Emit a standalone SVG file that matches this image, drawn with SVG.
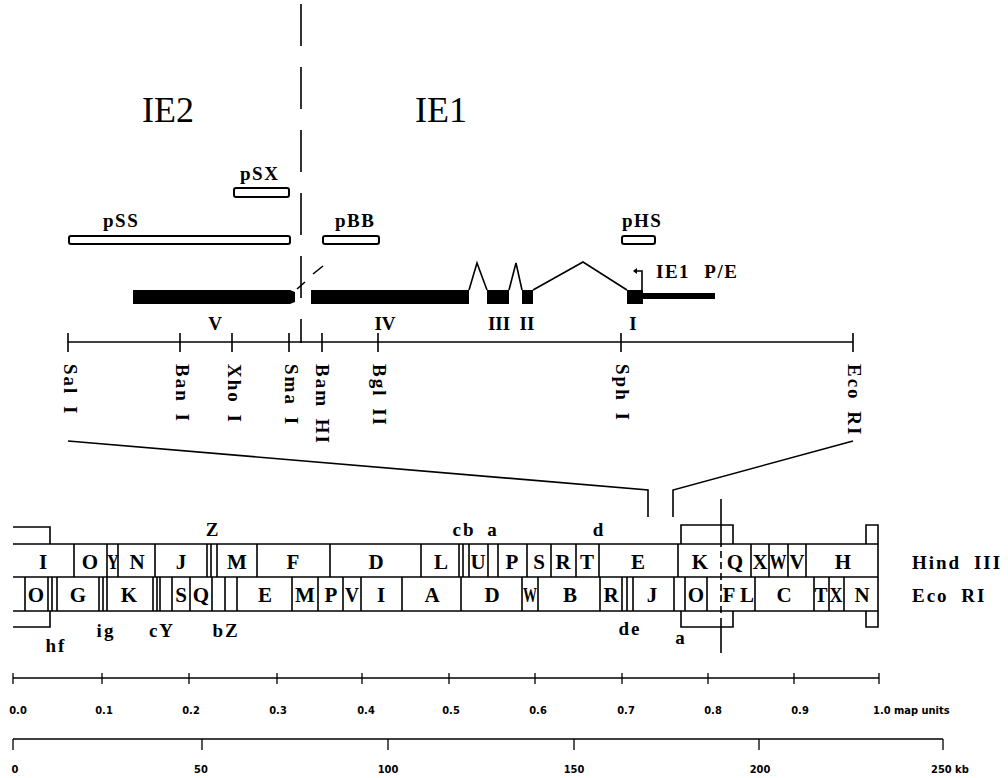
<svg xmlns="http://www.w3.org/2000/svg" width="1008" height="778" viewBox="0 0 1008 778">
<style>
.ln{stroke:#000;stroke-width:1.6;fill:none}
.thin{stroke:#000;stroke-width:1.3;fill:none}
.probe{fill:#fff;stroke:#000;stroke-width:2}
.exon{fill:#000}
.big{font-family:"Liberation Serif",serif;font-size:36px;text-anchor:middle}
.lbl{font-family:"Liberation Serif",serif;font-weight:bold;font-size:19px;letter-spacing:1.5px;word-spacing:8px}
.ex{font-family:"Liberation Serif",serif;font-weight:bold;font-size:19px;text-anchor:middle}
.site{font-family:"Liberation Serif",serif;font-weight:bold;font-size:19px;letter-spacing:2px;word-spacing:4px}
.band{font-family:"Liberation Serif",serif;font-weight:bold;font-size:21px;text-anchor:middle}
.sm{font-family:"Liberation Serif",serif;font-weight:bold;font-size:19px;letter-spacing:2px;text-anchor:middle}
.enz{font-family:"Liberation Serif",serif;font-weight:bold;font-size:19px;letter-spacing:2px;word-spacing:6px}
.ax{font-family:"DejaVu Sans Condensed","Liberation Sans",sans-serif;font-weight:bold;font-size:11px;text-anchor:middle}
.axl{font-family:"DejaVu Sans Condensed","Liberation Sans",sans-serif;font-weight:bold;font-size:11px}
</style>

<g id="connectors">
  <path class="ln" d="M301 4 V343" stroke-dasharray="42 21"/>
  <path class="ln" d="M68 441 L648 490 V517"/>
  <path class="ln" d="M853 441 L673 490 V517"/>
</g>

<g id="titles">
  <text class="big" x="168" y="122">IE2</text>
  <text class="big" x="441" y="122">IE1</text>
</g>

<g id="probes">
  <rect class="probe" x="234" y="188" width="55" height="9" rx="2"/>
  <text class="lbl" x="240" y="180">pSX</text>
  <rect class="probe" x="69" y="236" width="221" height="8" rx="2"/>
  <text class="lbl" x="103" y="227">pSS</text>
  <rect class="probe" x="323" y="236" width="56" height="8" rx="2"/>
  <text class="lbl" x="335" y="227">pBB</text>
  <rect class="probe" x="622" y="236" width="33" height="8" rx="2"/>
  <text class="lbl" x="622" y="227">pHS</text>
</g>

<g id="gene">
  <path class="exon" d="M133 290 H290 L295 292 V302 L290 304 H133 Z"/>
  <rect class="exon" x="311" y="290" width="158" height="14"/>
  <rect class="exon" x="487" y="290" width="22" height="14"/>
  <rect class="exon" x="522" y="290" width="11" height="14"/>
  <rect class="exon" x="627" y="290" width="16" height="14"/>
  <rect class="exon" x="643" y="293" width="72" height="6"/>
  <path class="ln" d="M469 290 L477 263 L487 290"/>
  <path class="ln" d="M509 290 L516 263 L522 290"/>
  <path class="ln" d="M533 290 L583 262 L627 290"/>
  <path class="ln" d="M313 274 L323 266"/>
  <path class="ln" d="M297 289 L305 282"/>
  <path class="ln" d="M642 290 V271 H636"/>
  <path d="M637 268 L633 271 L637 274 Z" fill="#000"/>
  <text class="lbl" x="656" y="278">IE1 P/E</text>
  <text class="ex" x="215" y="330">V</text>
  <text class="ex" x="385" y="330">IV</text>
  <text class="ex" x="499" y="330">III</text>
  <text class="ex" x="527" y="330">II</text>
  <text class="ex" x="633" y="330">I</text>
</g>

<g id="restriction-map">
  <path class="ln" d="M68 342 H853"/>
  <path class="ln" d="M68 333 V352 M180 333 V352 M232 333 V352 M289 333 V352 M322 333 V352 M378 333 V352 M621 333 V352 M853 333 V352"/>
  <text class="site" transform="translate(64,364) rotate(90)">Sal I</text>
  <text class="site" transform="translate(176,364) rotate(90)">Ban I</text>
  <text class="site" transform="translate(228,364) rotate(90)">Xho I</text>
  <text class="site" transform="translate(285,364) rotate(90)">Sma I</text>
  <text class="site" transform="translate(316,364) rotate(90)">Bam HI</text>
  <text class="site" transform="translate(373,364) rotate(90)">Bgl II</text>
  <text class="site" transform="translate(616,364) rotate(90)">Sph I</text>
  <text class="site" transform="translate(848,364) rotate(90)">Eco RI</text>
</g>

<g id="fragment-map">
  <path class="ln" d="M13 544 H878 M13 577 H878 M13 611 H878"/>
  <path class="ln" d="M74 544V577M107 544V577M118 544V577M155 544V577M207 544V577M211 544V577M217 544V577M257 544V577M330 544V577M421 544V577M459 544V577M463 544V577M469 544V577M488 544V577M498 544V577M527 544V577M551 544V577M576 544V577M599 544V577M678 544V577M751 544V577M769 544V577M788 544V577M806 544V577M878 544V577"/>
  <path class="ln" d="M25 577V611M48 577V611M52 577V611M57 577V611M99 577V611M103 577V611M107 577V611M153 577V611M157 577V611M160 577V611M172 577V611M190 577V611M212 577V611M225 577V611M237 577V611M292 577V611M318 577V611M343 577V611M361 577V611M402 577V611M461 577V611M522 577V611M538 577V611M600 577V611M622 577V611M627 577V611M633 577V611M674 577V611M685 577V611M707 577V611M755 577V611M814 577V611M829 577V611M844 577V611M878 577V611"/>
  <path class="ln" d="M13 527 H50 V544 M50 611 V627 H13"/>
  <path class="ln" d="M681 544 V525 H733 V544 M681 611 V627 H733 V611"/>
  <path class="ln" d="M866 544 V525 H878 V544 M866 611 V627 H878 V611"/>
  <path class="ln" d="M721 499 V540"/>
  <path class="ln" d="M721 540 V616" stroke-dasharray="7 4"/>
  <path class="ln" d="M721 618 V653"/>
</g>

<g id="hind-bands">
  <text class="band" x="43" y="569">I</text>
  <text class="band" x="90" y="569">O</text>
  <text class="band" x="113" y="569" textLength="12" lengthAdjust="spacingAndGlyphs">Y</text>
  <text class="band" x="137" y="569">N</text>
  <text class="band" x="181" y="569">J</text>
  <text class="band" x="237" y="569">M</text>
  <text class="band" x="293" y="569">F</text>
  <text class="band" x="376" y="569">D</text>
  <text class="band" x="441" y="569">L</text>
  <text class="band" x="478" y="569">U</text>
  <text class="band" x="512" y="569">P</text>
  <text class="band" x="539" y="569">S</text>
  <text class="band" x="563" y="569">R</text>
  <text class="band" x="587" y="569">T</text>
  <text class="band" x="638" y="569">E</text>
  <text class="band" x="700" y="569">K</text>
  <text class="band" x="735" y="569">Q</text>
  <text class="band" x="760" y="569" textLength="15" lengthAdjust="spacingAndGlyphs">X</text>
  <text class="band" x="778" y="569" textLength="17" lengthAdjust="spacingAndGlyphs">W</text>
  <text class="band" x="797" y="569" textLength="15" lengthAdjust="spacingAndGlyphs">V</text>
  <text class="band" x="843" y="569">H</text>
</g>

<g id="eco-bands">
  <text class="band" x="36" y="602">O</text>
  <text class="band" x="78" y="602">G</text>
  <text class="band" x="129" y="602">K</text>
  <text class="band" x="181" y="602">S</text>
  <text class="band" x="201" y="602">Q</text>
  <text class="band" x="265" y="602">E</text>
  <text class="band" x="305" y="602">M</text>
  <text class="band" x="331" y="602">P</text>
  <text class="band" x="352" y="602" textLength="14" lengthAdjust="spacingAndGlyphs">V</text>
  <text class="band" x="381" y="602">I</text>
  <text class="band" x="432" y="602">A</text>
  <text class="band" x="492" y="602">D</text>
  <text class="band" x="530" y="602" textLength="14" lengthAdjust="spacingAndGlyphs">W</text>
  <text class="band" x="570" y="602">B</text>
  <text class="band" x="611" y="602">R</text>
  <text class="band" x="652" y="602">J</text>
  <text class="band" x="696" y="602">O</text>
  <text class="band" x="729" y="602">F</text>
  <text class="band" x="747" y="602">L</text>
  <text class="band" x="784" y="602">C</text>
  <text class="band" x="821" y="602" textLength="13" lengthAdjust="spacingAndGlyphs">T</text>
  <text class="band" x="836" y="602" textLength="13" lengthAdjust="spacingAndGlyphs">X</text>
  <text class="band" x="862" y="602">N</text>
</g>

<g id="small-labels">
  <text class="sm" x="213" y="536">Z</text>
  <text class="sm" x="464" y="536">cb</text>
  <text class="sm" x="493" y="536">a</text>
  <text class="sm" x="599" y="536">d</text>
  <text class="sm" x="56" y="652">hf</text>
  <text class="sm" x="106" y="637">ig</text>
  <text class="sm" x="162" y="637">cY</text>
  <text class="sm" x="226" y="637">bZ</text>
  <text class="sm" x="630" y="635">de</text>
  <text class="sm" x="681" y="644">a</text>
</g>

<g id="enzyme-labels">
  <text class="enz" x="912" y="569">Hind III</text>
  <text class="enz" x="912" y="602">Eco RI</text>
</g>

<g id="map-units-scale">
  <path class="thin" d="M13 678 H879"/>
  <path class="thin" d="M13 673V684M102 673V684M189 673V684M277 673V684M362 673V684M449 673V684M535 673V684M622 673V684M708 673V684M794 673V684M879 673V684"/>
  <text class="ax" x="18" y="714">0.0</text>
  <text class="ax" x="104" y="714">0.1</text>
  <text class="ax" x="191" y="714">0.2</text>
  <text class="ax" x="278" y="714">0.3</text>
  <text class="ax" x="366" y="714">0.4</text>
  <text class="ax" x="451" y="714">0.5</text>
  <text class="ax" x="538" y="714">0.6</text>
  <text class="ax" x="626" y="714">0.7</text>
  <text class="ax" x="713" y="714">0.8</text>
  <text class="ax" x="800" y="714">0.9</text>
  <text class="axl" x="873" y="714">1.0 map units</text>
</g>

<g id="kb-scale">
  <path class="thin" d="M13 739 H943"/>
  <path class="thin" d="M13 739V750M202 739V750M388 739V750M574 739V750M759 739V750M943 739V750"/>
  <text class="ax" x="15" y="773">0</text>
  <text class="ax" x="201" y="773">50</text>
  <text class="ax" x="388" y="773">100</text>
  <text class="ax" x="574" y="773">150</text>
  <text class="ax" x="760" y="773">200</text>
  <text class="axl" x="931" y="773">250 kb</text>
</g>
</svg>
